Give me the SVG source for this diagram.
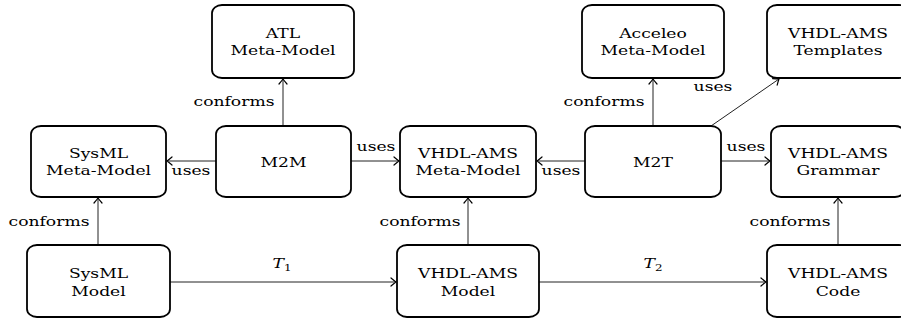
<svg xmlns="http://www.w3.org/2000/svg" width="901" height="320" viewBox="0 0 901 320">
<style>
.box{fill:#fff;stroke:#000;stroke-width:1.8}
.t{font-family:"DejaVu Serif",serif;font-size:13px;text-anchor:middle;fill:#000}
.c{fill:none;stroke:#222;stroke-width:1;marker-end:url(#arr)}
</style>
<defs>
<marker id="arr" markerUnits="userSpaceOnUse" markerWidth="12" markerHeight="12" refX="0" refY="0" viewBox="-6 -6 12 12" orient="auto" overflow="visible">
<path d="M-5,-4 Q-1.5,-1 0,0 Q-1.5,1 -5,4" fill="none" stroke="#000" stroke-width="1.2" stroke-linecap="round"/>
</marker>
</defs>
<g id="connectors">
<line class="c" x1="283" y1="126" x2="283" y2="79"/>
<line class="c" x1="216" y1="161" x2="167" y2="161"/>
<line class="c" x1="351" y1="161" x2="399" y2="161"/>
<line class="c" x1="585" y1="161" x2="537" y2="161"/>
<line class="c" x1="721" y1="161" x2="770" y2="161"/>
<line class="c" x1="653" y1="126" x2="653" y2="79"/>
<line class="c" x1="711" y1="126" x2="779" y2="79"/>
<line class="c" x1="98" y1="245" x2="98" y2="198"/>
<line class="c" x1="468" y1="245" x2="468" y2="198"/>
<line class="c" x1="838" y1="245" x2="838" y2="198"/>
<line class="c" x1="170" y1="282" x2="396" y2="282"/>
<line class="c" x1="539" y1="282" x2="766" y2="282"/>
<text class="t" transform="translate(234,106) scale(1.32,1)">conforms</text>
<text class="t" transform="translate(604,106) scale(1.32,1)">conforms</text>
<text class="t" transform="translate(49,226) scale(1.32,1)">conforms</text>
<text class="t" transform="translate(420,226) scale(1.32,1)">conforms</text>
<text class="t" transform="translate(790,226) scale(1.32,1)">conforms</text>
<text class="t" transform="translate(191,175) scale(1.32,1)">uses</text>
<text class="t" transform="translate(376,151) scale(1.32,1)">uses</text>
<text class="t" transform="translate(561,175) scale(1.32,1)">uses</text>
<text class="t" transform="translate(746,151) scale(1.32,1)">uses</text>
<text class="t" transform="translate(713,91) scale(1.32,1)">uses</text>
<text class="t" transform="translate(282,268) scale(1.32,1)"><tspan font-style="italic">T</tspan><tspan font-size="9" dy="3">1</tspan></text>
<text class="t" transform="translate(653,268) scale(1.32,1)"><tspan font-style="italic">T</tspan><tspan font-size="9" dy="3">2</tspan></text>
</g>
<g id="atl"><rect class="box" x="212" y="5" width="142" height="73" rx="10" ry="8"/>
<text class="t" transform="translate(283,38) scale(1.32,1)">ATL</text>
<text class="t" transform="translate(283,55) scale(1.32,1)">Meta-Model</text></g>
<g id="acceleo"><rect class="box" x="582" y="5" width="142" height="73" rx="10" ry="8"/>
<text class="t" transform="translate(653,38) scale(1.32,1)">Acceleo</text>
<text class="t" transform="translate(653,55) scale(1.32,1)">Meta-Model</text></g>
<g id="templates"><rect class="box" x="767" y="5" width="142" height="73" rx="10" ry="8"/>
<text class="t" transform="translate(838,38) scale(1.32,1)">VHDL-AMS</text>
<text class="t" transform="translate(838,55) scale(1.32,1)">Templates</text></g>
<g id="sysmlmm"><rect class="box" x="31" y="126" width="135" height="71" rx="10" ry="8"/>
<text class="t" transform="translate(98.5,158) scale(1.32,1)">SysML</text>
<text class="t" transform="translate(98.5,175) scale(1.32,1)">Meta-Model</text></g>
<g id="m2m"><rect class="box" x="216" y="126" width="135" height="71" rx="10" ry="8"/>
<text class="t" transform="translate(283.5,167) scale(1.32,1)">M2M</text></g>
<g id="vhdlmm"><rect class="box" x="400" y="126" width="136" height="71" rx="10" ry="8"/>
<text class="t" transform="translate(468,158) scale(1.32,1)">VHDL-AMS</text>
<text class="t" transform="translate(468,175) scale(1.32,1)">Meta-Model</text></g>
<g id="m2t"><rect class="box" x="585" y="126" width="136" height="71" rx="10" ry="8"/>
<text class="t" transform="translate(653,167) scale(1.32,1)">M2T</text></g>
<g id="grammar"><rect class="box" x="771" y="126" width="134" height="71" rx="10" ry="8"/>
<text class="t" transform="translate(838,158) scale(1.32,1)">VHDL-AMS</text>
<text class="t" transform="translate(838,175) scale(1.32,1)">Grammar</text></g>
<g id="sysmlmodel"><rect class="box" x="27" y="245" width="143" height="72" rx="10" ry="8"/>
<text class="t" transform="translate(98.5,278) scale(1.32,1)">SysML</text>
<text class="t" transform="translate(98.5,296) scale(1.32,1)">Model</text></g>
<g id="vhdlmodel"><rect class="box" x="397" y="245" width="142" height="72" rx="10" ry="8"/>
<text class="t" transform="translate(468,278) scale(1.32,1)">VHDL-AMS</text>
<text class="t" transform="translate(468,296) scale(1.32,1)">Model</text></g>
<g id="code"><rect class="box" x="767" y="245" width="142" height="72" rx="10" ry="8"/>
<text class="t" transform="translate(838,278) scale(1.32,1)">VHDL-AMS</text>
<text class="t" transform="translate(838,296) scale(1.32,1)">Code</text></g>
</svg>
